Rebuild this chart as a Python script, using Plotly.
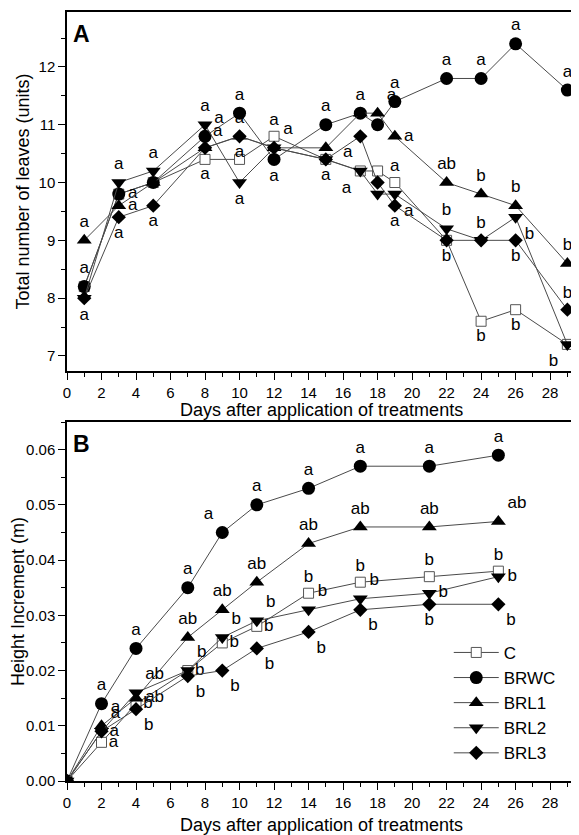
import plotly.graph_objects as go

# ---------------- data ----------------
series_names = ["C", "BRWC", "BRL1", "BRL2", "BRL3"]

days_A = [1, 3, 5, 8, 10, 12, 15, 17, 18, 19, 22, 24, 26, 29]
leaves_C    = [8.2, 9.8, 10.0, 10.4, 10.4, 10.8, 10.4, 10.2, 10.2, 10.0, 9.0, 7.6, 7.8, 7.2]
leaves_BRWC = [8.2, 9.8, 10.0, 10.8, 11.2, 10.4, 11.0, 11.2, 11.0, 11.4, 11.8, 11.8, 12.4, 11.6]
leaves_BRL1 = [9.0, 9.6, 10.0, 10.6, 10.8, 10.6, 10.6, 11.2, 11.2, 10.8, 10.0, 9.8, 9.6, 8.6]
leaves_BRL2 = [8.0, 10.0, 10.2, 11.0, 10.0, 10.6, 10.4, 10.2, 9.8, 9.8, 9.2, 9.0, 9.4, 7.2]
leaves_BRL3 = [8.0, 9.4, 9.6, 10.6, 10.8, 10.6, 10.4, 10.8, 10.0, 9.6, 9.0, 9.0, 9.0, 7.8]

letters_A_C    = ["", "", "", "a", "", "a", "", "", "", "a", "", "b", "b", ""]
letters_A_BRWC = ["a", "a", "", "a", "a", "a", "a", "", "", "a", "a", "a", "a", "a"]
letters_A_BRL1 = ["a", "a", "", "", "a", "a", "", "a", "a", "a", "ab", "b", "b", "b"]
letters_A_BRL2 = ["a", "a", "a", "a", "a", "", "", "a", "", "a", "b", "", "b", "b"]
letters_A_BRL3 = ["", "a", "a", "a", "a", "", "a", "a", "", "a", "b", "b", "b", "b"]

days_B = [0, 2, 4, 7, 9, 11, 14, 17, 21, 25]
height_C    = [0, 0.007, 0.014, 0.020, 0.025, 0.028, 0.034, 0.036, 0.037, 0.038]
height_BRWC = [0, 0.014, 0.024, 0.035, 0.045, 0.050, 0.053, 0.057, 0.057, 0.059]
height_BRL1 = [0, 0.010, 0.015, 0.026, 0.031, 0.036, 0.043, 0.046, 0.046, 0.047]
height_BRL2 = [0, 0.009, 0.016, 0.020, 0.026, 0.029, 0.031, 0.033, 0.034, 0.037]
height_BRL3 = [0, 0.009, 0.013, 0.019, 0.020, 0.024, 0.027, 0.031, 0.032, 0.032]

letters_B_C    = ["", "a", "b", "b", "b", "b", "b", "b", "b", "b"]
letters_B_BRWC = ["", "a", "a", "a", "a", "a", "a", "a", "a", "a"]
letters_B_BRL1 = ["", "a", "ab", "ab", "ab", "ab", "ab", "ab", "ab", "ab"]
letters_B_BRL2 = ["", "a", "ab", "b", "b", "b", "b", "b", "b", "b"]
letters_B_BRL3 = ["", "a", "b", "b", "b", "b", "b", "b", "b", "b"]

xtitle = "Days after application of treatments"
ytitle_A = "Total number of leaves (units)"
ytitle_B = "Height Increment (m)"

# ---------------- label placement (style) ----------------
POS = {"t": "top center", "b": "bottom center", "r": "middle right", "l": "middle left",
       "tr": "top right", "tl": "top left", "br": "bottom right", "bl": "bottom left", "": "top center"}

pos_A = {
    "C":    ["", "", "", "b", "", "t", "", "", "", "t", "", "b", "b", ""],
    "BRWC": ["t", "r", "", "tr", "t", "b", "t", "", "", "t", "t", "t", "t", "t"],
    "BRL1": ["t", "r", "", "", "t", "tr", "", "t", "tr", "r", "t", "t", "t", "t"],
    "BRL2": ["b", "t", "t", "t", "b", "", "", "bl", "", "br", "t", "", "br", "bl"],
    "BRL3": ["", "b", "b", "tr", "b", "", "b", "bl", "", "b", "b", "t", "b", "t"],
}
pos_B = {
    "C":    ["", "r", "r", "r", "r", "r", "t", "t", "t", "t"],
    "BRWC": ["", "t", "t", "t", "tl", "t", "t", "t", "t", "t"],
    "BRL1": ["", "tr", "r", "t", "t", "t", "t", "t", "t", "tr"],
    "BRL2": ["", "tr", "tr", "tr", "tr", "tr", "tr", "tr", "r", "r"],
    "BRL3": ["", "r", "br", "br", "br", "br", "br", "br", "b", "br"],
}

FONT = "Arial, Liberation Sans, sans-serif"
LINE_COLOR = "#4a4a4a"

marker_style = {
    "C":    dict(symbol="square", size=10, color="white", line=dict(color="#555555", width=1)),
    "BRWC": dict(symbol="circle", size=13, color="black", line=dict(color="black", width=0)),
    "BRL1": dict(symbol="triangle-up", size=13, color="black", line=dict(color="black", width=0)),
    "BRL2": dict(symbol="triangle-down", size=13, color="black", line=dict(color="black", width=0)),
    "BRL3": dict(symbol="diamond", size=11, color="black", line=dict(color="black", width=0)),
}

data_A = {"C": leaves_C, "BRWC": leaves_BRWC, "BRL1": leaves_BRL1, "BRL2": leaves_BRL2, "BRL3": leaves_BRL3}
lab_A = {"C": letters_A_C, "BRWC": letters_A_BRWC, "BRL1": letters_A_BRL1, "BRL2": letters_A_BRL2, "BRL3": letters_A_BRL3}
data_B = {"C": height_C, "BRWC": height_BRWC, "BRL1": height_BRL1, "BRL2": height_BRL2, "BRL3": height_BRL3}
lab_B = {"C": letters_B_C, "BRWC": letters_B_BRWC, "BRL1": letters_B_BRL1, "BRL2": letters_B_BRL2, "BRL3": letters_B_BRL3}

fig = go.Figure()

for name in series_names:
    fig.add_trace(go.Scatter(
        x=days_A, y=data_A[name], mode="lines+markers+text",
        text=lab_A[name], textposition=[POS[p] for p in pos_A[name]],
        textfont=dict(family=FONT, size=17, color="black"),
        line=dict(color=LINE_COLOR, width=1), marker=marker_style[name],
        name=name, showlegend=False, xaxis="x", yaxis="y", cliponaxis=False,
    ))

for name in series_names:
    fig.add_trace(go.Scatter(
        x=days_B, y=data_B[name], mode="lines+markers+text",
        text=lab_B[name], textposition=[POS[p] for p in pos_B[name]],
        textfont=dict(family=FONT, size=17, color="black"),
        line=dict(color=LINE_COLOR, width=1), marker=marker_style[name],
        name=name, showlegend=True, xaxis="x2", yaxis="y2",
    ))

axis_common = dict(
    showline=True, linecolor="black", linewidth=1.5, mirror=True,
    ticks="outside", ticklen=7, tickwidth=1.2, tickcolor="black",
    showgrid=False, zeroline=False, automargin=False,
    tickfont=dict(family=FONT, size=15, color="black"),
)

# the page body has an 8px margin, so the figure is sized to fit inside the window
fig.update_layout(
    width=571, height=827,
    margin=dict(l=59, r=3, t=4, b=54, autoexpand=False),
    paper_bgcolor="white", plot_bgcolor="white",
    font=dict(family=FONT, color="black"),
    xaxis=dict(domain=[0, 1], anchor="y", range=[0, 29.5], dtick=2, tick0=0,
               minor=dict(dtick=1, ticklen=4, ticks="outside", tickcolor="black"),
               **axis_common),
    yaxis=dict(domain=[0.5332, 1], anchor="x", range=[6.74, 12.95], dtick=1, tick0=0,
               minor=dict(dtick=0.5, ticklen=4, ticks="outside", tickcolor="black"),
               title=dict(text=ytitle_A, font=dict(family=FONT, size=18), standoff=4),
               **axis_common),
    xaxis2=dict(domain=[0, 1], anchor="y2", range=[0, 29.5], dtick=2, tick0=0,
                minor=dict(dtick=1, ticklen=4, ticks="outside", tickcolor="black"),
                title=dict(text=xtitle, font=dict(family=FONT, size=18), standoff=10),
                **axis_common),
    yaxis2=dict(domain=[0, 0.4668], anchor="x2", range=[0, 0.065], dtick=0.01, tick0=0,
                tickformat=".2f",
                minor=dict(dtick=0.005, ticklen=4, ticks="outside", tickcolor="black"),
                title=dict(text=ytitle_B, font=dict(family=FONT, size=18), standoff=2),
                **axis_common),
    legend=dict(x=0.75, y=0.19, xanchor="left", yanchor="top",
                bgcolor="rgba(0,0,0,0)", font=dict(family=FONT, size=17),
                itemwidth=45, tracegroupgap=0),
    annotations=[
        dict(text="<b>A</b>", xref="x domain", yref="y domain", x=0.008, y=0.98,
             xanchor="left", yanchor="top", showarrow=False,
             font=dict(family=FONT, size=23, color="black")),
        dict(text="<b>B</b>", xref="x2 domain", yref="y2 domain", x=0.008, y=0.98,
             xanchor="left", yanchor="top", showarrow=False,
             font=dict(family=FONT, size=23, color="black")),
        dict(text=xtitle, xref="x domain", yref="y domain", x=0.5, y=-0.108,
             xanchor="center", yanchor="middle", showarrow=False,
             font=dict(family=FONT, size=18, color="black")),
    ],
)

fig.write_html("out.html")
